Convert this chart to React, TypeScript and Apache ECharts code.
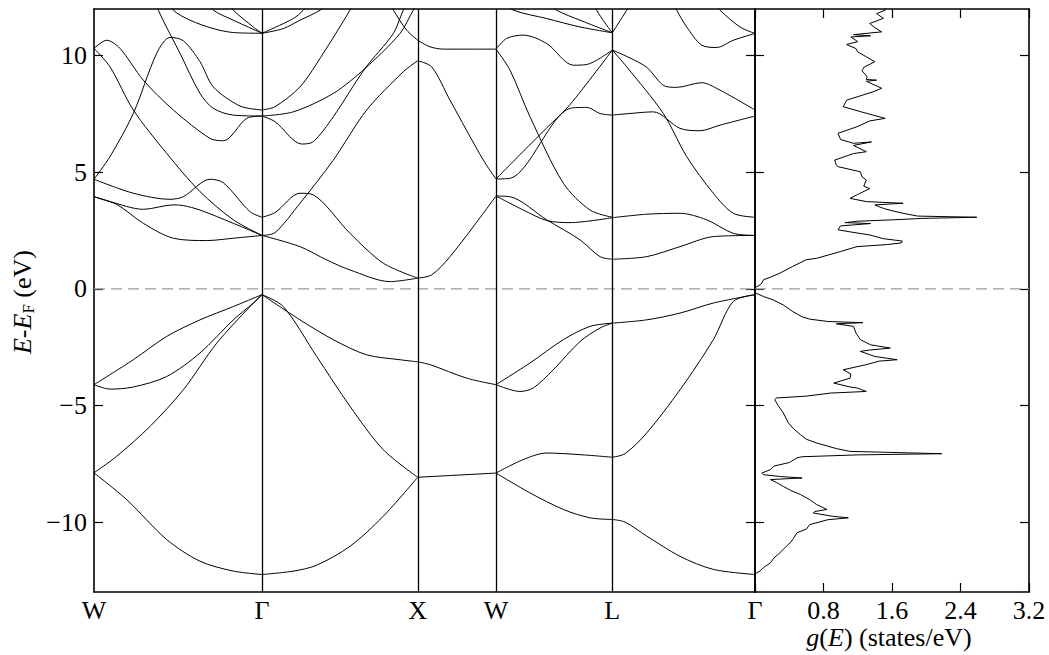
import React, { useEffect, useRef } from 'react';
import * as echarts from 'echarts';

type Pt = [number, number];

const FONT = 'Liberation Serif, Times New Roman, serif';

// high-symmetry path positions (k) and labels
const kPos = [0, 1.68, 3.237, 4.02, 5.183, 6.61];
const kLabels = ['W', 'Γ', 'X', 'W', 'L', 'Γ'];
const yTicks = [-10, -5, 0, 5, 10];
const dosTicks = [0, 0.8, 1.6, 2.4, 3.2];

// bands along W -> Γ
const bandsWG: Pt[][] = [
  [[0, -7.89], [0.327, -9.04], [0.727, -10.75], [1.06, -11.68], [1.39, -12.1], [1.68, -12.25]],
  [[0, -7.89], [0.227, -7.18], [0.56, -5.9], [0.893, -4.33], [1.227, -2.33], [1.56, -0.76], [1.68, -0.25]],
  [[0, -4.11], [0.16, -4.3], [0.393, -4.21], [0.727, -3.76], [1.06, -2.75], [1.393, -1.33], [1.593, -0.61], [1.68, -0.25]],
  [[0, -4.11], [0.393, -3.04], [0.727, -2.04], [1.06, -1.33], [1.393, -0.76], [1.68, -0.25]],
  [[0, 3.95], [0.227, 3.62], [0.493, 2.81], [0.793, 2.17], [1.127, 2.07], [1.393, 2.17], [1.68, 2.29]],
  [[0, 3.95], [0.16, 3.74], [0.493, 3.41], [0.793, 3.6], [0.893, 3.57], [1.06, 3.38], [1.393, 2.81], [1.68, 2.29]],
  [[0, 4.7], [0.393, 4.1], [0.76, 3.84], [0.893, 3.95], [1.16, 4.7], [1.293, 4.55], [1.56, 3.31], [1.68, 3.07]],
  [[0, 10.31], [0.16, 9.52], [0.393, 7.67], [0.727, 5.81], [1.06, 4.17], [1.393, 2.96], [1.68, 2.29]],
  [[0, 4.7], [0.16, 5.67], [0.393, 7.52], [0.627, 10.1], [0.76, 10.78], [0.893, 10.64], [1.06, 9.74], [1.193, 8.66], [1.46, 7.84], [1.68, 7.67]],
  [[0, 10.31], [0.127, 10.66], [0.26, 10.31], [0.493, 8.95], [0.793, 7.67], [1.16, 6.45], [1.293, 6.35], [1.527, 7.31], [1.68, 7.41]],
  [[0.6, 12.6], [0.643, 11.95], [0.86, 10.1], [1.06, 8.38], [1.193, 7.74], [1.393, 7.45], [1.68, 7.41]],
  [[0.75, 12.4], [0.793, 11.95], [0.96, 11.52], [1.193, 11.16], [1.393, 10.99], [1.68, 10.96]],
  [[1.15, 12.3], [1.193, 11.95], [1.393, 11.52], [1.68, 10.96]],
  [[1.35, 12.3], [1.393, 11.95], [1.593, 11.23], [1.68, 10.96]],
];

// bands along Γ -> X
const bandsGX: Pt[][] = [
  [[1.68, -12.25], [2.0, -12.1], [2.227, -11.85], [2.56, -11.04], [2.893, -9.75], [3.237, -8.08]],
  [[1.68, -0.25], [1.893, -0.76], [2.227, -2.9], [2.56, -5.04], [2.893, -6.9], [3.237, -8.08]],
  [[1.68, -0.25], [2.06, -1.33], [2.393, -2.18], [2.727, -2.83], [3.06, -3.04], [3.237, -3.13]],
  [[1.68, 2.29], [2.06, 1.81], [2.327, 1.24], [2.56, 0.81], [2.96, 0.31], [3.237, 0.46]],
  [[1.68, 2.29], [1.81, 2.41], [2.06, 3.67], [2.393, 5.52], [2.727, 7.67], [3.093, 9.31], [3.237, 9.78]],
  [[1.68, 3.07], [1.81, 3.27], [2.06, 4.1], [2.193, 4.03], [2.56, 2.38], [2.893, 1.1], [3.237, 0.46]],
  [[1.68, 7.67], [1.81, 7.81], [2.06, 8.66], [2.293, 10.1], [2.56, 11.95], [2.7, 13]],
  [[1.68, 7.41], [1.993, 7.59], [2.393, 8.38], [2.71, 9.45], [3.06, 10.95], [3.193, 11.95], [3.3, 12.6]],
  [[1.68, 7.41], [1.81, 7.17], [2.077, 6.21], [2.193, 6.31], [2.393, 7.38], [2.71, 9.45], [2.993, 10.95], [3.093, 11.95], [3.2, 12.8]],
  [[1.68, 10.96], [1.893, 11.16], [2.06, 11.52], [2.26, 11.95], [2.4, 12.5]],
  [[1.68, 10.96], [1.993, 11.59], [2.093, 11.95], [2.2, 12.5]],
  [[2.9, 12.6], [2.993, 11.95], [3.127, 11.09], [3.237, 10.66]],
];

// bands along X -> W
const bandsXW: Pt[][] = [
  [[3.237, -8.08], [4.02, -7.9]],
  [[3.237, -3.13], [3.36, -3.25], [3.727, -3.83], [4.02, -4.11]],
  [[3.237, 0.46], [3.377, 0.6], [3.56, 1.38], [3.893, 3.24], [4.02, 3.98]],
  [[3.237, 9.78], [3.377, 9.52], [3.56, 8.09], [3.893, 5.52], [4.02, 4.71]],
  [[3.237, 10.66], [3.36, 10.38], [3.493, 10.28], [4.02, 10.28]],
];

// bands along W -> L
const bandsWL: Pt[][] = [
  [[4.02, -7.9], [4.293, -7.32], [4.527, -7.04], [4.86, -7.11], [5.183, -7.22]],
  [[4.02, -7.9], [4.36, -8.75], [4.693, -9.46], [4.96, -9.82], [5.183, -9.89]],
  [[4.02, -4.11], [4.36, -3.18], [4.693, -2.18], [4.96, -1.61], [5.183, -1.47]],
  [[4.02, -4.11], [4.26, -4.4], [4.393, -4.25], [4.593, -3.47], [4.86, -2.26], [5.06, -1.68], [5.183, -1.47]],
  [[4.02, 3.98], [4.16, 3.95], [4.527, 2.96], [4.86, 2.1], [5.06, 1.38], [5.183, 1.27]],
  [[4.02, 3.98], [4.293, 3.38], [4.527, 2.93], [4.76, 2.84], [5.183, 3.05]],
  [[4.02, 4.71], [4.163, 4.74], [4.76, 7.74], [4.927, 7.78], [5.06, 7.52], [5.183, 7.45]],
  [[4.02, 4.71], [4.293, 5.9], [4.527, 6.9], [4.76, 7.9], [5.183, 10.24]],
  [[4.02, 10.28], [4.127, 10.74], [4.293, 10.88], [4.527, 10.52], [4.793, 9.59], [4.927, 9.62], [5.183, 10.24]],
  [[4.02, 10.28], [4.16, 9.38], [4.36, 7.38], [4.693, 4.53], [4.96, 3.38], [5.183, 3.07]],
  [[4.1, 12.3], [4.193, 11.95], [4.527, 11.59], [4.86, 11.23], [5.183, 10.98]],
  [[4.55, 12.3], [4.627, 11.95], [4.86, 11.52], [5.183, 10.98]],
  [[5.0, 12.5], [5.027, 11.95], [5.183, 10.98]],
];

// bands along L -> Γ
const bandsLG: Pt[][] = [
  [[5.183, -1.47], [5.527, -1.33], [5.86, -1.04], [6.193, -0.61], [6.61, -0.25]],
  [[5.183, -7.22], [5.31, -7.07], [5.527, -6.18], [5.86, -4.33], [6.193, -2.18], [6.393, -0.54], [6.61, -0.25]],
  [[5.183, -9.89], [5.31, -10.0], [5.527, -10.6], [5.86, -11.47], [6.193, -12.03], [6.61, -12.25]],
  [[5.183, 1.27], [5.527, 1.38], [5.86, 1.81], [6.193, 2.24], [6.61, 2.29]],
  [[5.183, 3.05], [5.527, 3.2], [5.86, 3.24], [6.127, 2.96], [6.393, 2.38], [6.61, 2.29]],
  [[5.183, 10.24], [5.327, 9.52], [5.693, 7.52], [5.927, 5.67], [6.193, 4.1], [6.393, 3.24], [6.61, 3.07]],
  [[5.183, 7.45], [5.36, 7.52], [5.593, 7.59], [5.86, 6.88], [6.06, 6.78], [6.26, 7.02], [6.61, 7.41]],
  [[5.183, 10.24], [5.36, 9.9], [5.527, 9.5], [5.71, 8.69], [5.827, 8.64], [6.077, 8.84], [6.26, 8.52], [6.61, 7.67]],
  [[5.183, 10.98], [5.327, 11.95], [5.4, 12.5]],
  [[5.75, 12.6], [5.827, 11.95], [5.927, 11.23], [6.077, 10.45], [6.227, 10.35], [6.393, 10.66], [6.61, 10.95]],
  [[6.2, 12.3], [6.26, 11.95], [6.46, 11.23], [6.61, 10.95]],
];

// density of states: energy (eV) and g(E) (states/eV)
const dosEnergy = [
  12.3, 11.95, 11.8, 11.6, 11.38, 11.2, 11.02, 10.9, 10.85, 10.8, 10.6, 10.48, 10.3, 10.16, 9.95, 9.74,
  9.5, 9.35, 9.1, 8.98, 8.95, 8.9, 8.6, 8.45, 8.09, 7.81, 7.6, 7.45, 7.31, 7.2, 6.95, 6.67, 6.4, 6.24,
  6.3, 6.15, 5.88, 5.8, 5.52, 5.3, 5.24, 5.02, 4.8, 4.67, 4.4, 4.3, 4.05, 3.88, 3.74, 3.67, 3.6, 3.45,
  3.35, 3.24, 3.12, 3.07, 3.02, 2.96, 2.9, 2.84, 2.8, 2.7, 2.53, 2.45, 2.31, 2.15, 2.05, 1.97, 1.9, 1.81,
  1.6, 1.31, 1.25, 0.96, 0.67, 0.5, 0.39, 0.25, 0.17, 0.05, 0.0, -0.15,
  -0.2, -0.33, -0.47, -0.69, -0.97, -1.2, -1.3, -1.4, -1.45, -1.5, -1.61, -1.9, -2.18, -2.4, -2.54, -2.62,
  -2.68, -2.9, -3.04, -3.1, -3.25, -3.47, -3.65, -3.83, -4.04, -4.2, -4.25, -4.4, -4.47, -4.6, -4.68, -4.75,
  -5.0, -5.32, -5.75, -6.0, -6.25, -6.45, -6.61, -6.85, -6.97, -7.07, -7.12, -7.2, -7.25, -7.45, -7.6, -7.75,
  -7.9, -7.97, -8.05, -8.11, -8.18, -8.3, -8.47, -8.65, -8.82, -9.04, -9.25, -9.46, -9.55, -9.61, -9.75, -9.82,
  -9.9, -10.11, -10.3, -10.46, -10.7, -10.89, -11.1, -11.32, -11.55, -11.75, -11.95, -12.1, -12.2, -12.3,
];
const dosValue = [
  1.52, 1.52, 1.42, 1.5, 1.34, 1.4, 1.48, 1.15, 1.35, 1.12, 1.2, 1.07, 1.18, 1.2, 1.3, 1.4,
  1.27, 1.25, 1.31, 1.3, 1.42, 1.3, 1.48, 1.38, 1.07, 1.03, 1.23, 1.38, 1.52, 1.34, 1.19, 0.97, 1.0, 1.15,
  1.36, 1.15, 1.3, 1.15, 0.93, 0.95, 0.97, 1.23, 1.25, 1.3, 1.27, 1.34, 1.2, 1.11, 1.3, 1.73, 1.4, 1.5,
  1.6, 1.73, 1.9, 2.59, 1.95, 1.61, 1.2, 1.05, 1.35, 1.0, 0.97, 1.1, 1.34, 1.5, 1.72, 1.71, 1.55, 1.19,
  1.0, 0.72, 0.6, 0.44, 0.29, 0.18, 0.1, 0.08, 0.06, 0.0, 0.0, 0.0,
  0.02, 0.1, 0.21, 0.33, 0.44, 0.55, 0.64, 0.85, 1.26, 0.95, 1.15, 1.18, 1.23, 1.35, 1.58, 1.35,
  1.23, 1.4, 1.66, 1.45, 1.3, 1.03, 1.12, 1.11, 0.92, 1.1, 1.19, 1.3, 0.88, 0.6, 0.25, 0.23,
  0.27, 0.33, 0.39, 0.45, 0.53, 0.6, 0.72, 0.95, 1.11, 2.18, 1.2, 0.55, 0.49, 0.4, 0.22, 0.18,
  0.08, 0.1, 0.3, 0.55, 0.18, 0.25, 0.33, 0.42, 0.53, 0.64, 0.72, 0.84, 0.7, 0.68, 0.9, 1.09,
  0.85, 0.64, 0.6, 0.49, 0.45, 0.41, 0.35, 0.29, 0.22, 0.18, 0.1, 0.06, 0.01, 0.0,
];

const K_MIN = kPos[0];
const K_MAX = kPos[kPos.length - 1];
const E_MIN = -13;
const E_MAX = 12;

export default function App() {
  const ref = useRef<HTMLDivElement>(null);

  useEffect(() => {
    if (!ref.current) return;
    const chart = echarts.init(ref.current, undefined, { renderer: 'svg' });

    const black = '#000';
    const axisLine = { show: true, onZero: false, lineStyle: { color: black, width: 1.6 } };
    const tickStyle = { color: black, width: 1.2 };
    const labelFont = { color: black, fontFamily: FONT, fontSize: 26 };

    const allBands = [...bandsWG, ...bandsGX, ...bandsXW, ...bandsWL, ...bandsLG];
    const bandSeries = allBands.map((pts) => ({
      type: 'line',
      xAxisIndex: 0,
      yAxisIndex: 0,
      data: pts,
      symbol: 'none',
      showSymbol: false,
      smooth: 0.3,
      clip: true,
      silent: true,
      lineStyle: { color: black, width: 1 },
      z: 3,
    }));

    const yFmt = (v: number) => (v < 0 ? '\u2212' + Math.abs(v) : String(v));

    const option: any = {
      animation: false,
      backgroundColor: '#fff',
      grid: [
        { left: 94, top: 9, width: 661, height: 583, containLabel: false, outerBoundsMode: 'none' },
        { left: 755, top: 9, width: 274, height: 583, containLabel: false, outerBoundsMode: 'none' },
      ],
      xAxis: [
        {
          gridIndex: 0, type: 'value', min: K_MIN, max: K_MAX, position: 'bottom',
          axisLine, axisTick: { show: false }, splitLine: { show: false },
          axisLabel: {
            ...labelFont, margin: 5, showMinLabel: true, showMaxLabel: true,
            customValues: kPos,
            formatter: (v: number) => {
              const i = kPos.findIndex((k) => Math.abs(k - v) < 1e-6);
              return i >= 0 ? kLabels[i] : '';
            },
          },
        },
        {
          gridIndex: 0, type: 'value', min: K_MIN, max: K_MAX, position: 'top',
          axisLine, axisTick: { show: false }, axisLabel: { show: false }, splitLine: { show: false },
        },
        {
          gridIndex: 1, type: 'value', min: dosTicks[0], max: dosTicks[dosTicks.length - 1], interval: 0.8,
          position: 'bottom',
          axisLine, axisTick: { show: true, inside: true, length: 9, lineStyle: tickStyle },
          splitLine: { show: false },
          axisLabel: {
            ...labelFont, margin: 5, showMinLabel: true, showMaxLabel: true,
            formatter: (v: number) => (Math.abs(v) < 1e-9 ? '' : v.toFixed(1)),
          },
        },
        {
          gridIndex: 1, type: 'value', min: dosTicks[0], max: dosTicks[dosTicks.length - 1], interval: 0.8,
          position: 'top',
          axisLine, axisTick: { show: true, inside: true, length: 9, lineStyle: tickStyle },
          axisLabel: { show: false }, splitLine: { show: false },
        },
      ],
      yAxis: [
        {
          gridIndex: 0, type: 'value', min: E_MIN, max: E_MAX, position: 'left',
          axisLine,
          axisTick: { show: true, inside: true, length: 9, customValues: yTicks, lineStyle: tickStyle },
          axisLabel: { ...labelFont, margin: 7, customValues: yTicks, formatter: yFmt },
          splitLine: { show: false },
        },
        {
          gridIndex: 0, type: 'value', min: E_MIN, max: E_MAX, position: 'right',
          axisLine,
          axisTick: { show: true, inside: true, length: 9, customValues: yTicks, lineStyle: tickStyle },
          axisLabel: { show: false }, splitLine: { show: false },
        },
        {
          gridIndex: 1, type: 'value', min: E_MIN, max: E_MAX, position: 'left',
          axisLine,
          axisTick: { show: true, inside: true, length: 9, customValues: yTicks, lineStyle: tickStyle },
          axisLabel: { show: false }, splitLine: { show: false },
        },
        {
          gridIndex: 1, type: 'value', min: E_MIN, max: E_MAX, position: 'right',
          axisLine,
          axisTick: { show: true, inside: true, length: 9, customValues: yTicks, lineStyle: tickStyle },
          axisLabel: { show: false }, splitLine: { show: false },
        },
      ],
      graphic: [
        {
          type: 'text',
          x: 22,
          y: 302,
          rotation: Math.PI / 2,
          silent: true,
          style: {
            text: '{i|E}{n|-}{i|E}{s|F}{n| (eV)}',
            fill: black,
            fontFamily: FONT,
            fontSize: 26,
            align: 'center',
            verticalAlign: 'middle',
            rich: {
              i: { fontFamily: FONT, fontSize: 26, fontStyle: 'italic', lineHeight: 30, fill: black },
              n: { fontFamily: FONT, fontSize: 26, lineHeight: 30, fill: black },
              s: { fontFamily: FONT, fontSize: 17, lineHeight: 22, verticalAlign: 'bottom', fill: black },
            },
          },
        },
        {
          type: 'text',
          x: 889,
          y: 637,
          silent: true,
          style: {
            text: '{i|g}{n|(}{i|E}{n|) (states/eV)}',
            fill: black,
            fontFamily: FONT,
            fontSize: 26,
            align: 'center',
            verticalAlign: 'middle',
            rich: {
              i: { fontFamily: FONT, fontSize: 26, fontStyle: 'italic', lineHeight: 30, fill: black },
              n: { fontFamily: FONT, fontSize: 26, lineHeight: 30, fill: black },
            },
          },
        },
      ],
      series: [
        {
          type: 'line', xAxisIndex: 0, yAxisIndex: 0, data: [], silent: true,
          markLine: {
            silent: true, symbol: ['none', 'none'], label: { show: false },
            lineStyle: { color: black, width: 1.3, type: 'solid' },
            emphasis: { disabled: true },
            data: kPos.slice(1, -1).map((k) => ({ xAxis: k })),
          },
        },
        {
          type: 'line', xAxisIndex: 0, yAxisIndex: 0, silent: true, symbol: 'none',
          data: [[K_MIN, 0], [K_MAX, 0]],
          lineStyle: { color: '#9a9a9a', width: 1.3, type: [11, 6] }, z: 2,
        },
        {
          type: 'line', xAxisIndex: 2, yAxisIndex: 2, silent: true, symbol: 'none',
          data: [[dosTicks[0], 0], [dosTicks[dosTicks.length - 1], 0]],
          lineStyle: { color: '#9a9a9a', width: 1.3, type: [11, 6] }, z: 2,
        },
        ...bandSeries,
        {
          type: 'line', xAxisIndex: 2, yAxisIndex: 2, silent: true, symbol: 'none', showSymbol: false,
          clip: true,
          data: dosEnergy.map((e, i) => [dosValue[i], e]),
          lineStyle: { color: black, width: 1 }, z: 3,
        },
      ],
    };

    chart.setOption(option);
    return () => chart.dispose();
  }, []);

  return (
    <div
      ref={ref}
      style={{ position: 'absolute', left: 0, top: 0, width: 1049, height: 655, background: '#fff' }}
    />
  );
}
